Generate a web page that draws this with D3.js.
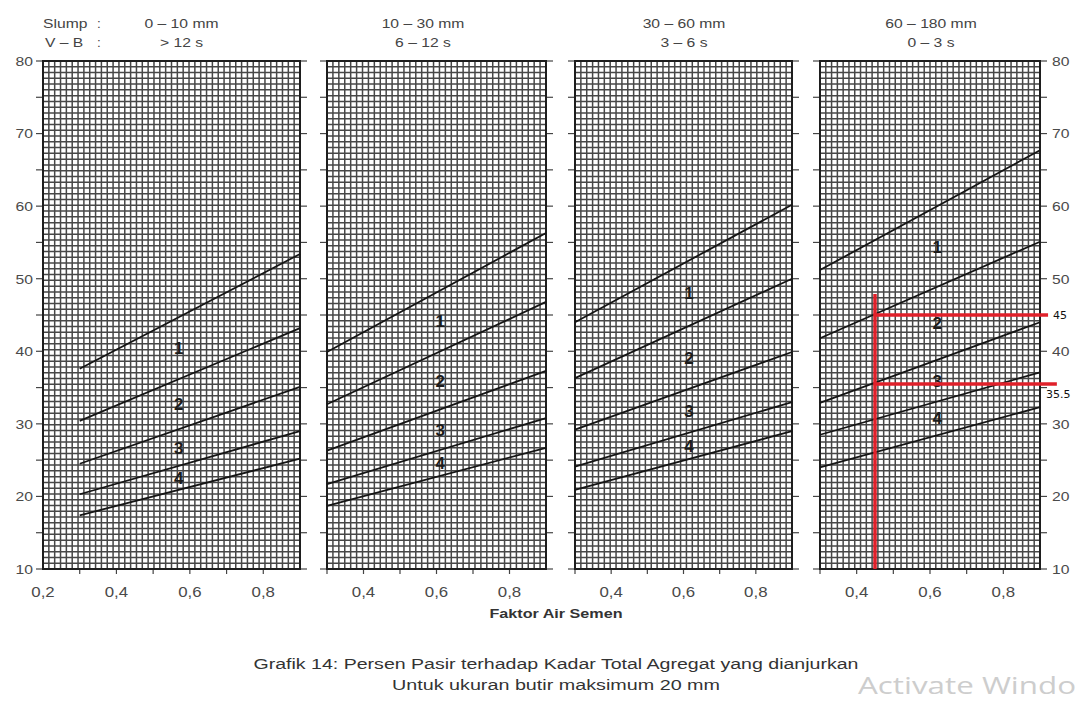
<!DOCTYPE html>
<html>
<head>
<meta charset="utf-8">
<script src="https://cdn.jsdelivr.net/npm/d3@7"></script>
<style>
  html, body { margin: 0; padding: 0; background: #fff; }
  svg { display: block; font-family: "Liberation Sans", Arial, sans-serif; }
</style>
</head>
<body>
<svg id="chart" width="1082" height="702"></svg>
<script>
// Workability classes heading each panel
const slumpLabels = ["0 – 10 mm", "10 – 30 mm", "30 – 60 mm", "60 – 180 mm"];
const vebeLabels = ["> 12 s", "6 – 12 s", "3 – 6 s", "0 – 3 s"];

// Water/cement ratio range of each panel
const wcMin = [0.2, 0.3, 0.3, 0.3];
const wcMax = 0.9;

// Zone boundary lines run from w/c 0.3 to w/c 0.9
const lineWc = [0.3, 0.9];
// Sand percentage of the five boundaries at w/c 0.3 ...
const sandAtStart = [
  [37.6, 30.4, 24.5, 20.3, 17.4],
  [39.9, 32.7, 26.3, 21.7, 18.7],
  [44.0, 36.3, 29.2, 24.1, 20.9],
  [51.2, 41.8, 32.9, 28.5, 24.0]
];
// ... and at w/c 0.9
const sandAtEnd = [
  [53.4, 43.2, 35.1, 29.0, 25.2],
  [56.3, 46.8, 37.3, 30.8, 26.7],
  [60.2, 50.0, 39.9, 33.0, 29.0],
  [67.7, 55.1, 44.0, 37.1, 32.3]
];

// Grading zone numbers written between the boundaries
const zoneNames = ["1", "2", "3", "4"];
const zoneLabelWc = [0.57, 0.61, 0.615, 0.62];

// Axis ticks
const sandTickLabels = [10, 20, 30, 40, 50, 60, 70, 80];
const sandTicks = [10, 15, 20, 25, 30, 35, 40, 45, 50, 55, 60, 65, 70, 75, 80];
const wcTicks = [0.3, 0.4, 0.5, 0.6, 0.7, 0.8];
const wcTickLabels = [[0.2, 0.4, 0.6, 0.8], [0.4, 0.6, 0.8], [0.4, 0.6, 0.8], [0.4, 0.6, 0.8]];

// Reading drawn on the last panel
const readWc = 0.45;
const readSand = [45, 35.5];
const readLabels = ["45", "35.5"];
const readTop = 47.9;
const readRightWc = [0.922, 0.946];

// ---------- layout ----------
const svg = d3.select("#chart");
const panelLeft = [43, 327, 575, 820];
const panelRight = [300, 546, 792, 1040];
const plotTop = 61, plotBottom = 569;
const textStretch = 1.16;
const fmtComma = d => d3.format(".1f")(d).replace(".", ",");

const y = d3.scaleLinear().domain([10, 80]).range([plotBottom, plotTop]);

function stretch(sel, k) {
  sel.each(function () {
    const w = this.getComputedTextLength();
    this.setAttribute("textLength", w * k);
    this.setAttribute("lengthAdjust", "spacingAndGlyphs");
  });
  return sel;
}

slumpLabels.forEach((_, i) => {
  const x = d3.scaleLinear().domain([wcMin[i], wcMax]).range([panelLeft[i], panelRight[i]]);
  const g = svg.append("g");
  const x0 = x.range()[0], x1 = x.range()[1];

  // millimetre-style grid
  const nx = Math.round((x1 - x0) / 5.85);
  const ny = Math.round((plotBottom - plotTop) / 5.8);
  const grid = g.append("g").attr("stroke", "#474747").attr("stroke-width", 1.5);
  grid.selectAll("line.v").data(d3.range(1, nx)).join("line")
    .attr("x1", k => x0 + k * (x1 - x0) / nx).attr("x2", k => x0 + k * (x1 - x0) / nx)
    .attr("y1", plotTop).attr("y2", plotBottom);
  grid.selectAll("line.h").data(d3.range(1, ny)).join("line")
    .attr("y1", k => plotTop + k * (plotBottom - plotTop) / ny).attr("y2", k => plotTop + k * (plotBottom - plotTop) / ny)
    .attr("x1", x0).attr("x2", x1);

  // outward sand ticks on both sides
  const ticks = g.append("g").attr("stroke", "#444").attr("stroke-width", 1.2);
  ticks.selectAll("line.l").data(sandTicks).join("line")
    .attr("x1", x0 - 7).attr("x2", x0).attr("y1", d => y(d)).attr("y2", d => y(d));
  ticks.selectAll("line.r").data(sandTicks).join("line")
    .attr("x1", x1).attr("x2", x1 + 7).attr("y1", d => y(d)).attr("y2", d => y(d));
  ticks.selectAll("line.b").data(wcTicks).join("line")
    .attr("x1", d => x(d)).attr("x2", d => x(d)).attr("y1", plotBottom).attr("y2", plotBottom + 5);

  // frame
  g.append("rect").attr("x", x0).attr("y", plotTop).attr("width", x1 - x0).attr("height", plotBottom - plotTop)
    .attr("fill", "none").attr("stroke", "#1e1e1e").attr("stroke-width", 2);

  // zone boundaries
  const bounds = sandAtStart[i].map((s, k) => [[lineWc[0], s], [lineWc[1], sandAtEnd[i][k]]]);
  g.append("g").selectAll("path").data(bounds).join("path")
    .attr("d", d3.line().x(d => x(d[0])).y(d => y(d[1])))
    .attr("fill", "none").attr("stroke", "#151515").attr("stroke-width", 1.8);

  // zone numbers, centred between neighbouring boundaries
  const at = (k, wc) => {
    const t = (wc - lineWc[0]) / (lineWc[1] - lineWc[0]);
    return sandAtStart[i][k] + t * (sandAtEnd[i][k] - sandAtStart[i][k]);
  };
  g.append("g").selectAll("text").data(zoneNames).join("text")
    .attr("x", x(zoneLabelWc[i]))
    .attr("y", (d, k) => y((at(k, zoneLabelWc[i]) + at(k + 1, zoneLabelWc[i])) / 2))
    .attr("dy", "0.36em").attr("text-anchor", "middle")
    .attr("font-size", 17).attr("font-weight", "bold").attr("fill", "#1c1c1c")
    .text(d => d);

  // w/c tick labels
  stretch(g.append("g").selectAll("text").data(wcTickLabels[i]).join("text")
    .attr("x", d => x(d)).attr("y", 597).attr("text-anchor", "middle")
    .attr("font-size", 14.5).attr("fill", "#4a4a4a").text(fmtComma), textStretch);

  // heading
  const hx = [181.5, 423, 684, 931][i];
  stretch(g.append("text").attr("x", hx).attr("y", 28).attr("text-anchor", "middle")
    .attr("font-size", 13.5).attr("fill", "#444").text(slumpLabels[i]), textStretch);
  stretch(g.append("text").attr("x", hx).attr("y", 47).attr("text-anchor", "middle")
    .attr("font-size", 13.5).attr("fill", "#444").text(vebeLabels[i]), textStretch);

  // sand % labels on the outer sides
  if (i === 0) {
    stretch(g.append("g").selectAll("text").data(sandTickLabels).join("text")
      .attr("x", 33).attr("y", d => y(d)).attr("dy", "0.36em").attr("text-anchor", "end")
      .attr("font-size", 13.5).attr("fill", "#4a4a4a").text(d => d), textStretch);
  }
  if (i === 3) {
    stretch(g.append("g").selectAll("text").data(sandTickLabels).join("text")
      .attr("x", 1052).attr("y", d => y(d)).attr("dy", "0.36em").attr("text-anchor", "start")
      .attr("font-size", 13.5).attr("fill", "#4a4a4a").text(d => d), textStretch);

    // reading lines
    const red = g.append("g").attr("stroke", "#e0202a").attr("stroke-width", 3.5);
    red.append("line").attr("x1", x(readWc)).attr("x2", x(readWc)).attr("y1", y(readTop)).attr("y2", y(10));
    red.selectAll("line.h").data(readSand).join("line")
      .attr("x1", x(readWc) - 1.5).attr("x2", (d, k) => x(readRightWc[k]))
      .attr("y1", d => y(d)).attr("y2", d => y(d));
    g.append("text").attr("x", 1053).attr("y", y(readSand[0])).attr("dy", "0.35em")
      .attr("font-family", "'DejaVu Sans', sans-serif")
      .attr("font-size", 11).attr("fill", "#111").text(readLabels[0]);
    g.append("text").attr("x", 1046).attr("y", y(readSand[1]) + 10).attr("dy", "0.35em")
      .attr("font-family", "'DejaVu Sans', sans-serif")
      .attr("font-size", 11).attr("fill", "#111").text(readLabels[1]);
  }
});

// x-axis title and caption
svg.append("text").attr("x", 556).attr("y", 618).attr("text-anchor", "middle")
  .attr("font-size", 13.5).attr("font-weight", "bold").attr("fill", "#333")
  .attr("textLength", 133).attr("lengthAdjust", "spacingAndGlyphs").text("Faktor Air Semen");
svg.append("text").attr("x", 556).attr("y", 669).attr("text-anchor", "middle")
  .attr("font-size", 15.5).attr("fill", "#333")
  .attr("textLength", 605).attr("lengthAdjust", "spacingAndGlyphs")
  .text("Grafik 14: Persen Pasir terhadap Kadar Total Agregat yang dianjurkan");
svg.append("text").attr("x", 556).attr("y", 690).attr("text-anchor", "middle")
  .attr("font-size", 15.5).attr("fill", "#333")
  .attr("textLength", 328).attr("lengthAdjust", "spacingAndGlyphs")
  .text("Untuk ukuran butir maksimum  20 mm");

// axis caption at the top-left
const head = svg.append("g").attr("font-size", 13.5).attr("fill", "#444");
stretch(head.append("text").attr("x", 43).attr("y", 28).text("Slump"), textStretch);
stretch(head.append("text").attr("x", 45).attr("y", 47).text("V – B"), textStretch);
head.append("text").attr("x", 97).attr("y", 28).text(":");
head.append("text").attr("x", 97).attr("y", 47).text(":");

// system watermark along the bottom edge
svg.append("text").attr("x", 858).attr("y", 694)
  .attr("font-family", "'Open Sans', 'Noto Sans', sans-serif").attr("font-size", 23)
  .attr("fill", "#cdcdcd")
  .attr("textLength", 218).attr("lengthAdjust", "spacingAndGlyphs")
  .text("Activate Windo");
</script>
</body>
</html>
